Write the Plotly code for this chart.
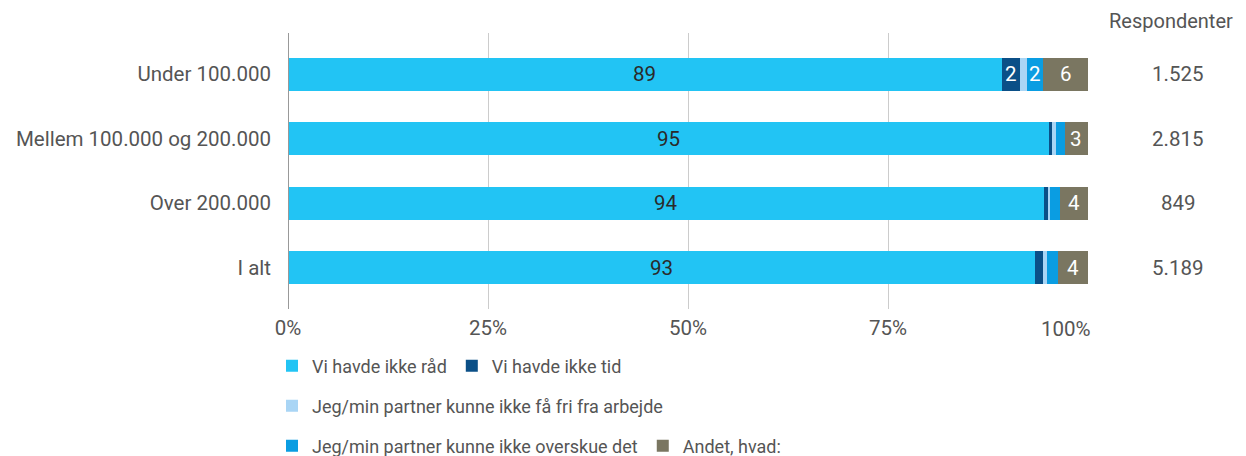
import plotly.graph_objects as go

categories = ["Under 100.000", "Mellem 100.000 og 200.000", "Over 200.000", "I alt"]
respondents = ["1.525", "2.815", "849", "5.189"]

series_names = [
    "Vi havde ikke råd",
    "Vi havde ikke tid",
    "Jeg/min partner kunne ikke få fri fra arbejde",
    "Jeg/min partner kunne ikke overskue det",
    "Andet, hvad:",
]
ikke_raad = [89.2, 95.1, 94.5, 93.4]
ikke_tid = [2.3, 0.4, 0.5, 1.0]
ikke_fri = [0.9, 0.5, 0.3, 0.5]
ikke_overskue = [2.0, 1.1, 1.2, 1.4]
andet = [5.6, 2.9, 3.5, 3.7]
series_values = [ikke_raad, ikke_tid, ikke_fri, ikke_overskue, andet]

tick_vals = [0, 25, 50, 75, 100]
tick_text = ["0%", "25%", "50%", "75%", "100%"]

colors = ["#22C4F4", "#0B4F87", "#A9D5F5", "#0A9DE2", "#7A7661"]
text_colors = ["#2A2A2A", "#FFFFFF", "#2A2A2A", "#FFFFFF", "#FFFFFF"]
legends = ["legend", "legend", "legend2", "legend3", "legend3"]

FS = 20.5
LFS = 18
GREY = "#555555"

fig = go.Figure()
for name, vals, col, lg in zip(series_names, series_values, colors, legends):
    fig.add_trace(go.Bar(
        y=categories, x=vals, name=name, orientation="h",
        marker=dict(color=col, line=dict(width=0)),
        width=0.51, legend=lg, hoverinfo="x+name",
    ))

# segment value labels (only segments wide enough show a label)
for ci, cat in enumerate(categories):
    start = 0.0
    for vals, tcol in zip(series_values, text_colors):
        v = vals[ci]
        if v >= 1.5:
            fig.add_annotation(x=start + v / 2, xref="x", y=cat, yref="y",
                               text=str(round(v)), showarrow=False,
                               xanchor="center", yanchor="middle",
                               font=dict(size=FS, color=tcol, family="Roboto"))
        start += v

for cat, r in zip(categories, respondents):
    fig.add_annotation(x=1.1125, xref="paper", y=cat, yref="y", text=r,
                       showarrow=False, xanchor="center",
                       font=dict(size=FS, color=GREY, family="Roboto"))
fig.add_annotation(x=1.183, xref="paper", y=1.0435, yref="paper", text="Respondenter",
                   showarrow=False, xanchor="right", yanchor="middle", borderpad=0,
                   font=dict(size=20, color=GREY, family="Roboto"))
# last tick label is kept inside the plot width, as in the reference
fig.add_annotation(x=tick_vals[-1], xref="x", y=0, yref="paper", text=tick_text[-1],
                   showarrow=False, xanchor="right", yanchor="top", xshift=5, yshift=-6,
                   font=dict(size=FS, color=GREY, family="Roboto"))

legend_common = dict(orientation="h", xanchor="left", x=-0.020, yanchor="middle",
                     font=dict(size=LFS, color=GREY, family="Roboto"),
                     bgcolor="rgba(0,0,0,0)", itemclick=False, traceorder="normal",
                     tracegroupgap=0)

fig.update_layout(
    width=1238, height=448,
    margin=dict(l=280, r=158, t=25, b=147, autoexpand=False),
    paper_bgcolor="white", plot_bgcolor="white",
    barmode="stack", bargap=0.49,
    font=dict(family="Roboto", size=FS, color=GREY),
    showlegend=True,
    legend=dict(legend_common, y=-0.207),
    legend2=dict(legend_common, y=-0.352),
    legend3=dict(legend_common, y=-0.497),
    xaxis=dict(range=[0, 100], tickvals=tick_vals,
               ticktext=tick_text[:-1] + [""],
               showgrid=True, gridcolor="#CCCCCC", gridwidth=1,
               zeroline=False, showline=False, ticks="", ticklabelstandoff=4,
               tickfont=dict(size=FS, color=GREY), fixedrange=True),
    yaxis=dict(autorange=False, range=[3.64, -0.64], categoryorder="array",
               categoryarray=categories, showgrid=False, zeroline=False,
               showline=False, ticks="", ticklabelstandoff=16,
               tickfont=dict(size=FS, color=GREY), fixedrange=True),
)
fig.add_shape(type="line", xref="x", yref="paper", x0=0, x1=0, y0=0, y1=1,
              line=dict(color="#999999", width=2), layer="above")

fig.write_html("out.html")
